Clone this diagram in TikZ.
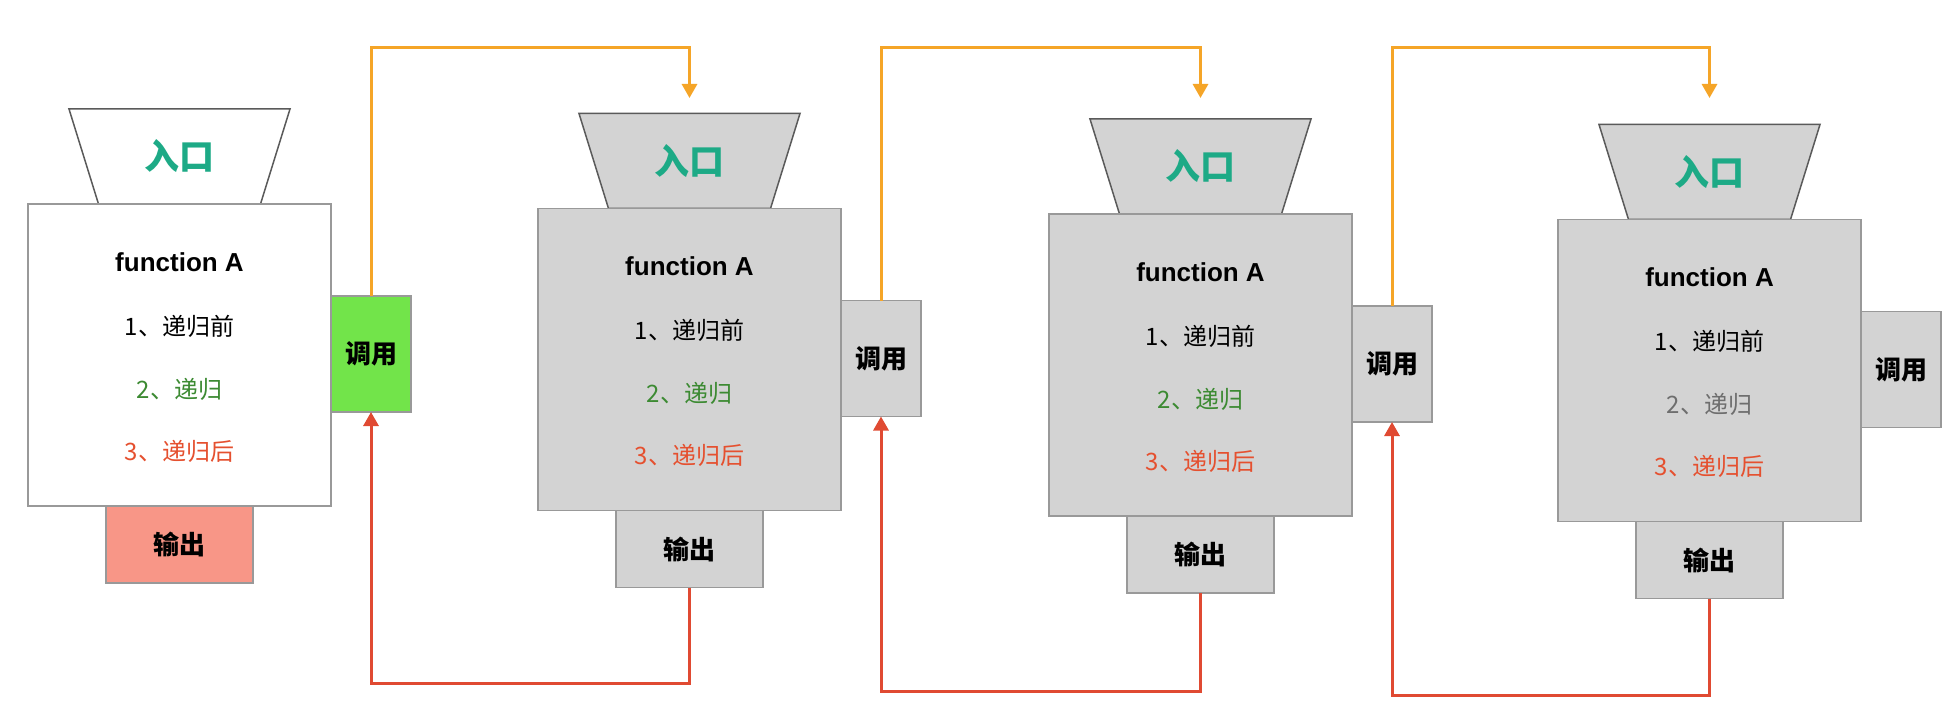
\documentclass[tikz,border=0pt]{standalone}
\usepackage{fontspec}
\setmainfont{Liberation Sans}
\newfontfamily\cjk{Noto Sans CJK SC}
\usetikzlibrary{arrows.meta,calc}
\definecolor{boxgray}{HTML}{D3D3D3}
\definecolor{edgegray}{HTML}{999999}
\definecolor{trapedge}{HTML}{5A5A5A}
\definecolor{callgreen}{HTML}{72E44A}
\definecolor{outsalmon}{HTML}{F89687}
\definecolor{entryteal}{HTML}{1DAA86}
\definecolor{greentext}{HTML}{3C8A32}
\definecolor{redtext}{HTML}{E5502F}
\definecolor{graytext}{HTML}{6E6E6E}
\definecolor{orangeline}{HTML}{F5A528}
\definecolor{redline}{HTML}{E04A32}
\tikzset{
  trapst/.style={draw=trapedge, line width=1.5pt, line join=miter},
  ghost/.style={inner sep=0pt, outer sep=0pt, font=\cjk\bfseries\fontsize{35}{40}\selectfont, text=entryteal},
  mainst/.style={draw=edgegray, line width=1.5pt, minimum width=303pt, minimum height=302pt, inner sep=0pt, outer sep=0pt},
  fntitle/.style={font=\bfseries\fontsize{26}{30}\selectfont, inner sep=0pt},
  itemst/.style={font=\cjk\fontsize{24}{28}\selectfont, inner sep=0pt},
  outst/.style={draw=edgegray, line width=1.5pt, minimum width=147pt, minimum height=77pt, inner sep=0pt, outer sep=0pt, font=\cjk\bfseries\fontsize{26}{30}\selectfont},
  callst/.style={draw=edgegray, line width=1.5pt, minimum width=80pt, minimum height=116pt, inner sep=0pt, outer sep=0pt, font=\cjk\bfseries\fontsize{26}{30}\selectfont},
  orarr/.style={draw=orangeline, line width=3pt, -{Triangle[width=15pt,length=14pt]}},
  redarr/.style={draw=redline, line width=3pt, -{Triangle[width=15pt,length=14pt]}}
}
\newcommand\myblock[7]{%
  \path[trapst, fill=#4] (#2+151.5-110.5,#3-95) -- (#2+151.5+110.5,#3-95) -- (#2+151.5+81,#3) -- (#2+151.5-81,#3) -- cycle;
  \node[ghost, minimum width=221pt, minimum height=95pt] (entry#1) at (#2+151.5,#3-47.5) {入口};
  \node[mainst, fill=#4] (fn#1) at (#2+151.5,#3+151) {};
  \node[fntitle] (title#1) at (#2+151.5,#3+58) {function A};
  \node[itemst] (pre#1) at (#2+151.5,#3+122) {1、递归前};
  \node[itemst, text=#7] (rec#1) at (#2+151.5,#3+185) {2、递归};
  \node[itemst, text=redtext] (post#1) at (#2+151.5,#3+247) {3、递归后};
  \node[outst, fill=#6, anchor=north] (out#1) at (fn#1.south) {输出};
  \node[callst, fill=#5, anchor=north west] (call#1) at ([yshift=-92pt]fn#1.north east) {调用};
}
\begin{document}
\begin{tikzpicture}[x=1pt,y=-1pt]
\useasboundingbox[fill=white] (0,0) rectangle (1946,714);
\myblock{1}{28}{204}{white}{callgreen}{outsalmon}{greentext}
\myblock{2}{538}{208.5}{boxgray}{boxgray}{boxgray}{greentext}
\myblock{3}{1049}{214}{boxgray}{boxgray}{boxgray}{greentext}
\myblock{4}{1558}{219.5}{boxgray}{boxgray}{boxgray}{graytext}
% calls (orange)
\draw[orarr, shorten >=15.5pt] (call1.north) -- (call1.north |- 0,48) -| (entry2.north);
\draw[orarr, shorten >=21pt] (call2.north) -- (call2.north |- 0,48) -| (entry3.north);
\draw[orarr, shorten >=26.5pt] (call3.north) -- (call3.north |- 0,48) -| (entry4.north);
% returns (red)
\draw[redarr] (out2.south) -- (out2.south |- 0,683) -| (call1.south);
\draw[redarr] (out3.south) -- (out3.south |- 0,691) -| (call2.south);
\draw[redarr] (out4.south) -- (out4.south |- 0,695) -| (call3.south);
\end{tikzpicture}
\end{document}
